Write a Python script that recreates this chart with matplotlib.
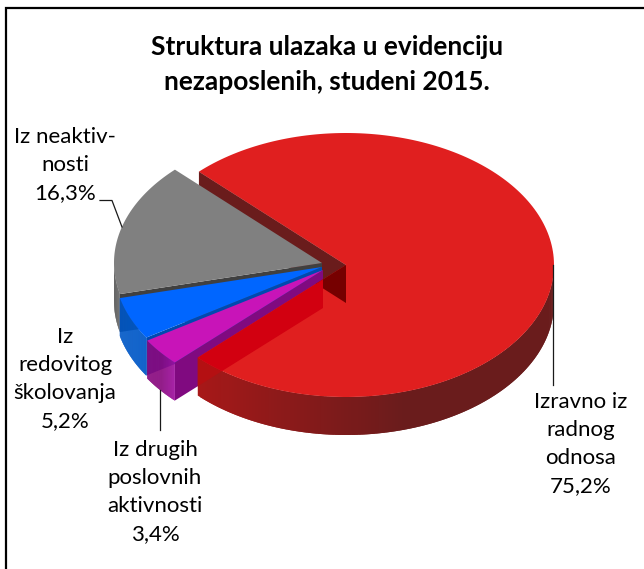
import numpy as np
import matplotlib
matplotlib.use('Agg')
import matplotlib.pyplot as plt
from matplotlib.patches import Polygon

plt.rcParams['font.family'] = ['Lato', 'DejaVu Sans']

naslov = 'Struktura ulazaka u evidenciju\nnezaposlenih, studeni 2015.'
kategorije = ['Izravno iz\nradnog\nodnosa', 'Iz drugih\nposlovnih\naktivnosti',
              'Iz\nredovitog\nškolovanja', 'Iz neaktiv-\nnosti']
vrijednosti = [75.2, 3.4, 5.2, 16.3]
oznake = ['75,2%', '3,4%', '5,2%', '16,3%']
boje_vrh = ['#e01f1f', '#c814b8', '#0066ff', '#808080']
boje_bok_a = ['#a81818', '#a010a0', '#0058c8', '#707070']
boje_bok_b = ['#6a1c1c', '#8a0a80', '#0058c8', '#5a5a5a']
boje_zid = ['#6a1c1c', '#800a80', '#004ab0', '#404040']

# pomaci kriski od zajednickog sredista (px)
sredista_x = [346, 323, 322, 322]
sredista_y = [265, 270, 267, 263]

RX = 208
RY = 132
DUBINA = 38
POCETAK = 135.0


def tocka(cx, cy, kut):
    k = np.radians(kut)
    return cx + RX * np.cos(k), cy - RY * np.sin(k)


def vrh_kriske(cx, cy, k1, k2):
    kutevi = np.linspace(k1, k2, 200)
    x, y = tocka(cx, cy, kutevi)
    return np.column_stack([np.r_[cx, x], np.r_[cy, y]])


def zid_ruba(cx, cy, k):
    x, y = tocka(cx, cy, k)
    return [(cx, cy), (x, y), (x, y + DUBINA), (cx, cy + DUBINA)]


def bok(ax, cx, cy, k1, k2, boja_a, boja_b, zorder):
    # vanjski zid, samo prednja strana (donja polovica elipse)
    kutevi = np.linspace(k1, k2, 150)
    kutevi = kutevi[np.sin(np.radians(kutevi)) <= 0.01]
    a = np.array(matplotlib.colors.to_rgb(boja_a))
    b = np.array(matplotlib.colors.to_rgb(boja_b))
    n = len(kutevi)
    for i in range(n - 1):
        x1, y1 = tocka(cx, cy, kutevi[i])
        j = min(i + 2, n - 1)
        x2, y2 = tocka(cx, cy, kutevi[j])
        t = min(1.0, i / max(1.0, n * 0.45))
        ax.add_patch(Polygon([(x1, y1), (x2, y2), (x2, y2 + DUBINA), (x1, y1 + DUBINA)],
                             closed=True, fc=a + (b - a) * t, ec='none', zorder=zorder))
    x, y = tocka(cx, cy, kutevi)
    return np.column_stack([np.r_[x, x[::-1]], np.r_[y, y[::-1] + DUBINA]])


fig = plt.figure(figsize=(6.44, 5.69), dpi=100)
ax = fig.add_axes([0, 0, 1, 1])
ax.set_xlim(0, 644)
ax.set_ylim(569, 0)
ax.axis('off')

# okvir: samo lijeva i gornja crta
ax.plot([6.5, 6.5, 644], [569, 7.5, 7.5], color='black', lw=1.6, zorder=1, solid_joinstyle='miter')

# granice kriski, u smjeru kazaljke
ukupno = sum(vrijednosti)
kraj = POCETAK - np.cumsum(vrijednosti) / ukupno * 360
kutevi_od = np.r_[POCETAK, kraj[:-1]]

# crveni zid u izrezu (iza svega)
zid_start = zid_ruba(sredista_x[0], sredista_y[0], kutevi_od[0])
ax.add_patch(Polygon(zid_start, closed=True, fc=boje_zid[0], ec='none', zorder=2))

# siva pa plava pa ljubicasta, odostraga prema naprijed
zid_ljub = None
for i in [3, 2, 1]:
    cx, cy = sredista_x[i], sredista_y[i]
    k1, k2 = kutevi_od[i], kraj[i]
    zo = 3 + (3 - i)
    # pocetak kriske je njezin donji rub
    zid = zid_ruba(cx, cy, k1)
    ax.add_patch(Polygon(zid, closed=True, fc=boje_zid[i], ec='none', zorder=zo))
    bok(ax, cx, cy, k1, k2, boje_bok_a[i], boje_bok_b[i], zo)
    if i == 1:
        zid_ljub = zid
    ax.add_patch(Polygon(vrh_kriske(cx, cy, k1, k2), closed=True, fc=boje_vrh[i], ec='none', zorder=zo + 0.5))

# crvena kriska
cx, cy = sredista_x[0], sredista_y[0]
k1, k2 = kutevi_od[0], kraj[0]
obris = bok(ax, cx, cy, k2, k2 + 140, boje_bok_a[0], boje_bok_b[0], 8)
vrh = Polygon(vrh_kriske(cx, cy, k1, k2), closed=True, fc=boje_vrh[0], ec='none', zorder=9)
ax.add_patch(vrh)

# kroz prozirni vrh vide se zidovi iza njega
kroz_a = Polygon(zid_start, closed=True, fc='#760000', ec='none', zorder=10)
ax.add_patch(kroz_a)
kroz_a.set_clip_path(vrh)
kroz_b = Polygon(zid_ljub, closed=True, fc='#d20010', ec='none', zorder=10)
ax.add_patch(kroz_b)
kroz_b.set_clip_path(vrh)
bok_obris = Polygon(obris, closed=True, fc='none', ec='none', zorder=0)
ax.add_patch(bok_obris)
kroz_c = Polygon(zid_ljub, closed=True, fc='#b41012', ec='none', zorder=8.5)
ax.add_patch(kroz_c)
kroz_c.set_clip_path(bok_obris)

# spojne crte
crte = [([553.5, 553.5], [265, 385]), ([160, 160], [390, 430]),
        ([100, 112, 122], [200.5, 200.5, 227])]
for xs, ys in crte:
    ax.plot(xs, ys, color='#1a1a1a', lw=0.9, zorder=11)

# tekst
ax.text(327, 64.5, naslov, ha='center', va='center', fontsize=19, fontweight='bold',
        color='black', linespacing=1.55)
pozicije_x = [581, 155, 65, 65]
pozicije_y = [444, 492, 379, 165]
for i in range(4):
    ax.text(pozicije_x[i], pozicije_y[i], kategorije[i] + '\n' + oznake[i], ha='center', va='center',
            fontsize=16, color='black', linespacing=1.52, zorder=12)

fig.savefig('out.png', dpi=100)
